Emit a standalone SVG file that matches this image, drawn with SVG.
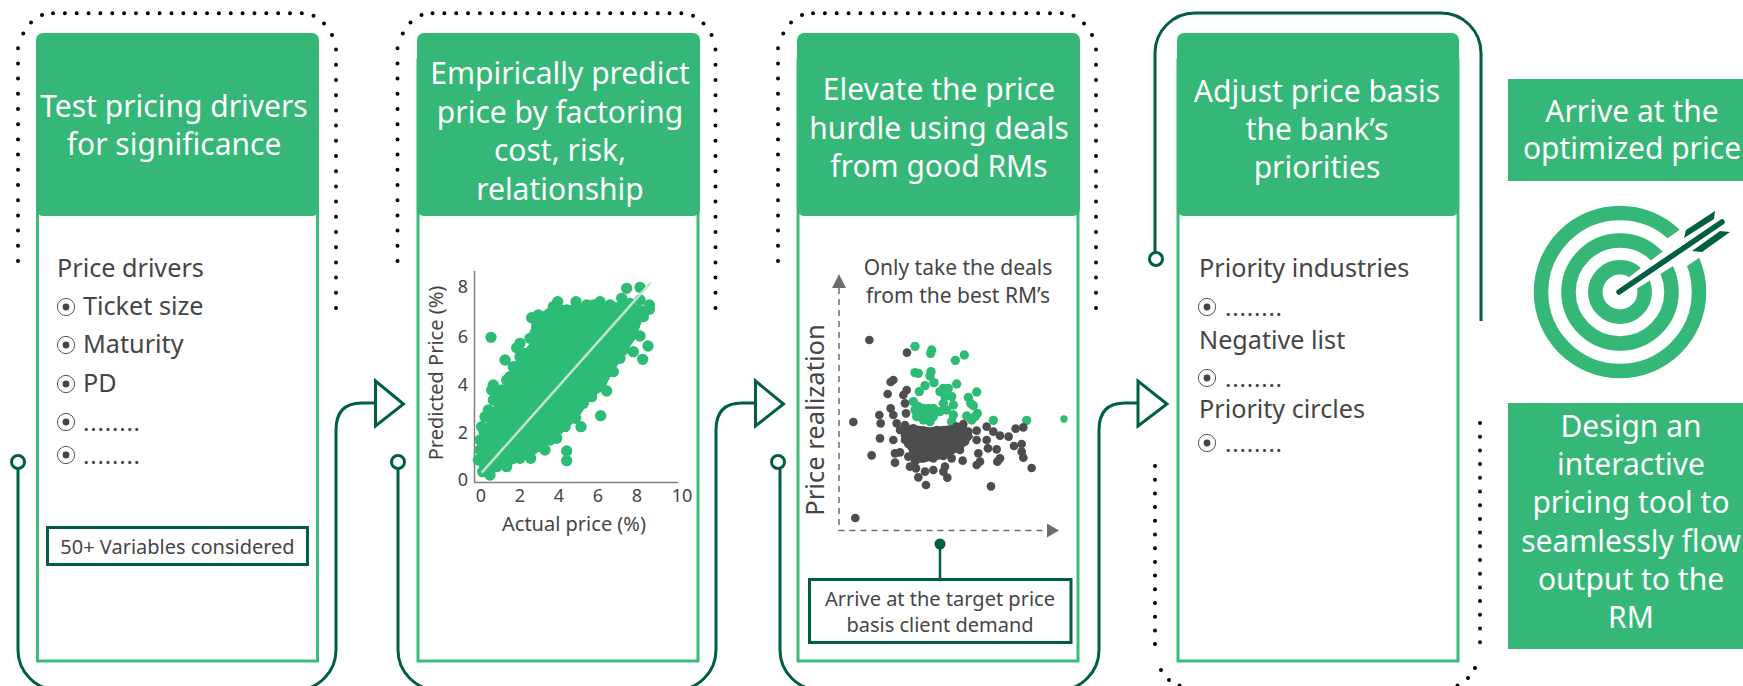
<svg xmlns="http://www.w3.org/2000/svg" xmlns:xlink="http://www.w3.org/1999/xlink" width="1743" height="686" viewBox="0 0 1743 686">
<style>
text{font-family:"Noto Sans","Open Sans","Liberation Sans",sans-serif}
.h{fill:#fff;font-size:30px;text-anchor:middle}
.hb{fill:#34B777}
.b{fill:#fff;stroke:#3DBB7B;stroke-width:3}
.t{fill:#454545;font-size:25.200px}
.dots{fill:#454545;font-size:24px;letter-spacing:.8px}
.s{fill:#454545;font-size:20px;text-anchor:middle}
.tick{fill:#454545;font-size:18px;text-anchor:middle}
.box{fill:#fff;stroke:#005F43;stroke-width:3}
.c{fill:none;stroke:#005F43;stroke-width:3}
.o{fill:#fff;stroke:#005F43;stroke-width:3}
.d{fill:none;stroke:#000;stroke-width:4;stroke-linecap:round}
.ax{fill:none;stroke:#808080;stroke-width:1.5}
.da{fill:none;stroke:#6D6E71;stroke-width:1.5;stroke-dasharray:6 5}
.ring{fill:none;stroke:#34B777;stroke-width:14.5}
</style>
<defs>
<g id="bul"><circle r="8.6" fill="#fff" stroke="#555" stroke-width="1"/><circle r="3.4" fill="#454545"/></g>
<g id="dotTop">
<path class="d" d="M18 261V47" stroke-dasharray="0 15.2"/>
<path class="d" d="M53 13.300H302" stroke-dasharray="0 11.85"/>
<path class="d" d="M336 308V49" stroke-dasharray="0 15.2"/>
<circle cx="23.300" cy="33.500" r="2"/><circle cx="31" cy="22.500" r="2"/><circle cx="42" cy="15" r="2"/><circle cx="313.500" cy="15.700" r="2"/><circle cx="324" cy="23.500" r="2"/><circle cx="332" cy="35" r="2"/>
</g>
</defs>
<g id="connectors">
<use xlink:href="#dotTop" href="#dotTop"/>
<use xlink:href="#dotTop" href="#dotTop" x="379.500"/>
<use xlink:href="#dotTop" href="#dotTop" x="760"/>
<path class="c" d="M18 468V650A40 40 0 0 0 58 690H296A40 40 0 0 0 336 650V430Q336 403 362 403H376"/>
<path class="c" d="M398 468V650A40 40 0 0 0 438 690H676A40 40 0 0 0 716 650V430Q716 403 742 403H756"/>
<path class="c" d="M780 468V650A40 40 0 0 0 820 690H1059A40 40 0 0 0 1099 650V430Q1099 403 1125 403H1139"/>
<path class="c" d="M1155 253V53A40 40 0 0 1 1195 13H1441A40 40 0 0 1 1481 53V321"/>
<path class="d" d="M1155 466V657" stroke-dasharray="0 13.7"/>
<path class="d" d="M1480 423V655" stroke-dasharray="0 13.7"/>
<path class="d" d="M1191 688.200H1446" stroke-dasharray="0 11.85"/>
<circle cx="1161" cy="670" r="2"/><circle cx="1169" cy="680" r="2"/><circle cx="1179.500" cy="685.500" r="2"/><circle cx="1475" cy="668" r="2"/><circle cx="1468" cy="678" r="2"/><circle cx="1457.500" cy="685.500" r="2"/>
<circle class="o" cx="18" cy="462" r="6.500"/><circle class="o" cx="398" cy="462" r="6.500"/><circle class="o" cx="778" cy="462" r="6.500"/><circle class="o" cx="1156" cy="259" r="6.500"/>
<path class="o" d="M375.500 381V426L403.500 404Z"/><path class="o" d="M755.500 381V426L783.500 404Z"/><path class="o" d="M1138 381V426L1167 404Z"/>
</g>
<g id="node1">
<rect class="b" x="37.500" y="60" width="280" height="601"/><rect class="hb" x="36" y="33" width="283" height="183" rx="7"/>
<text class="h" x="174" y="117">Test pricing drivers</text><text class="h" x="174" y="155">for significance</text>
<text class="t" x="57" y="277">Price drivers</text>
<use href="#bul" x="66" y="307"/><text class="t" x="83" y="315">Ticket size</text>
<use href="#bul" x="66" y="345"/><text class="t" x="83" y="353">Maturity</text>
<use href="#bul" x="66" y="384"/><text class="t" x="83" y="392">PD</text>
<use href="#bul" x="66" y="422"/><text class="dots" x="83" y="431">........</text>
<use href="#bul" x="66" y="455"/><text class="dots" x="83" y="464">........</text>
<rect class="box" x="47.500" y="527.500" width="260" height="37"/><text class="s" x="177.500" y="554">50+ Variables considered</text>
</g>
<g id="node2">
<rect class="b" x="418" y="60" width="280" height="601"/><rect class="hb" x="417" y="33" width="283" height="183" rx="7"/>
<text class="h" x="560" y="84">Empirically predict</text><text class="h" x="560" y="123">price by factoring</text><text class="h" x="560" y="161">cost, risk,</text><text class="h" x="560" y="200">relationship</text>
<path class="ax" d="M474.500 271V482.500H678"/>
<g transform="translate(410 250) scale(.33333)" fill="#2DBC75">
<path d="M205 640L215 560 235 500 265 440 300 380 310 340 360 280 365 205 430 165 500 165 565 160 640 155 715 170 700 200 680 260 640 320 610 365 580 420 545 445 500 510 440 565 360 625 290 650 240 675 210 665Z"/>
<circle cx="243" cy="262" r="17"/><circle cx="285" cy="330" r="17"/><circle cx="250" cy="405" r="17"/><circle cx="245" cy="420" r="17"/><circle cx="320" cy="293" r="17"/><circle cx="360" cy="265" r="17"/><circle cx="365" cy="203" r="17"/><circle cx="385" cy="195" r="17"/><circle cx="430" cy="170" r="17"/><circle cx="443" cy="155" r="17"/><circle cx="498" cy="155" r="17"/><circle cx="530" cy="165" r="17"/><circle cx="570" cy="155" r="17"/><circle cx="600" cy="165" r="17"/><circle cx="635" cy="145" r="17"/><circle cx="650" cy="115" r="17"/><circle cx="690" cy="112" r="17"/><circle cx="718" cy="165" r="17"/><circle cx="718" cy="178" r="17"/><circle cx="700" cy="200" r="17"/><circle cx="690" cy="258" r="17"/><circle cx="714" cy="288" r="17"/><circle cx="698" cy="328" r="17"/><circle cx="670" cy="305" r="17"/><circle cx="630" cy="325" r="17"/><circle cx="610" cy="365" r="17"/><circle cx="590" cy="423" r="17"/><circle cx="572" cy="497" r="17"/><circle cx="545" cy="440" r="17"/><circle cx="513" cy="530" r="17"/><circle cx="497" cy="505" r="17"/><circle cx="470" cy="603" r="17"/><circle cx="470" cy="632" r="17"/><circle cx="405" cy="600" r="17"/><circle cx="440" cy="565" r="17"/><circle cx="362" cy="625" r="17"/><circle cx="290" cy="650" r="17"/><circle cx="240" cy="675" r="17"/><circle cx="218" cy="665" r="17"/><circle cx="225" cy="500" r="17"/><circle cx="250" cy="450" r="17"/><circle cx="222" cy="545" r="17"/><circle cx="300" cy="380" r="17"/><circle cx="270" cy="430" r="17"/><circle cx="210" cy="600" r="17"/><circle cx="205" cy="630" r="17"/><circle cx="330" cy="280" r="17"/>
<circle cx="660" cy="260" r="17"/><circle cx="640" cy="300" r="17"/><circle cx="600" cy="345" r="17"/><circle cx="575" cy="395" r="17"/><circle cx="540" cy="425" r="17"/><circle cx="520" cy="460" r="17"/><circle cx="490" cy="480" r="17"/><circle cx="465" cy="530" r="17"/><circle cx="420" cy="570" r="17"/><circle cx="390" cy="590" r="17"/><circle cx="330" cy="625" r="17"/><circle cx="260" cy="650" r="17"/><circle cx="310" cy="350" r="17"/><circle cx="330" cy="320" r="17"/><circle cx="345" cy="310" r="17"/><circle cx="395" cy="225" r="17"/><circle cx="420" cy="190" r="17"/><circle cx="470" cy="180" r="17"/><circle cx="550" cy="165" r="17"/><circle cx="660" cy="160" r="17"/><circle cx="690" cy="150" r="17"/><circle cx="375" cy="250" r="17"/><circle cx="290" cy="390" r="17"/><circle cx="275" cy="420" r="17"/><circle cx="235" cy="480" r="17"/><circle cx="215" cy="530" r="17"/><circle cx="210" cy="570" r="17"/>
</g>
<path d="M481.700 472.700L650.700 282.700" stroke="#C5E3D3" stroke-width="2.500" fill="none"/>
<text class="tick" x="463" y="293">8</text><text class="tick" x="463" y="343">6</text><text class="tick" x="463" y="391">4</text><text class="tick" x="463" y="439">2</text><text class="tick" x="463" y="486">0</text>
<text class="tick" x="481" y="502">0</text><text class="tick" x="520" y="502">2</text><text class="tick" x="559" y="502">4</text><text class="tick" x="598" y="502">6</text><text class="tick" x="637" y="502">8</text><text class="tick" x="682" y="502">10</text>
<text class="s" x="574" y="531">Actual price (%)</text>
<text class="s" transform="translate(443 373) rotate(-90)">Predicted Price (%)</text>
</g>
<g id="node3">
<rect class="b" x="798" y="60" width="280" height="601"/><rect class="hb" x="797" y="33" width="283" height="183" rx="7"/>
<text class="h" x="939" y="100">Elevate the price</text><text class="h" x="939" y="139">hurdle using deals</text><text class="h" x="939" y="177">from good RMs</text>
<path class="da" d="M839 288V530.500H1047"/>
<path fill="#6D6E71" d="M839 274L832 288H846ZM1059 530.500L1047 523.500V537.500Z"/>
<text class="s" style="font-size:21px" x="958" y="275">Only take the deals</text><text class="s" style="font-size:21px" x="958" y="303">from the best RM’s</text>
<text class="t" style="font-size:25.600px;text-anchor:middle" transform="translate(824 420) rotate(-90)">Price realization</text>
<g transform="translate(780 240) scale(.33333)">
<g fill="#2DBC75">
<circle cx="405" cy="319" r="14"/><circle cx="455" cy="330" r="14"/><circle cx="452" cy="340" r="14"/><circle cx="526" cy="361" r="14"/><circle cx="553" cy="345" r="14"/><circle cx="405" cy="398" r="14"/><circle cx="415" cy="400" r="14"/><circle cx="453" cy="395" r="14"/><circle cx="450" cy="408" r="14"/><circle cx="530" cy="432" r="14"/><circle cx="590" cy="456" r="14"/><circle cx="435" cy="437" r="14"/><circle cx="462" cy="428" r="14"/><circle cx="418" cy="455" r="14"/><circle cx="490" cy="445" r="14"/><circle cx="505" cy="445" r="14"/><circle cx="480" cy="455" r="14"/><circle cx="495" cy="470" r="14"/><circle cx="515" cy="470" r="14"/><circle cx="520" cy="495" r="14"/><circle cx="490" cy="490" r="14"/><circle cx="500" cy="510" r="14"/><circle cx="520" cy="525" r="14"/><circle cx="515" cy="545" r="14"/><circle cx="400" cy="485" r="14"/><circle cx="405" cy="510" r="14"/><circle cx="415" cy="500" r="14"/><circle cx="430" cy="505" r="14"/><circle cx="445" cy="505" r="14"/><circle cx="460" cy="505" r="14"/><circle cx="470" cy="515" r="14"/><circle cx="420" cy="520" r="14"/><circle cx="440" cy="520" r="14"/><circle cx="460" cy="530" r="14"/><circle cx="480" cy="515" r="14"/><circle cx="410" cy="530" r="14"/><circle cx="430" cy="540" r="14"/><circle cx="450" cy="545" r="14"/><circle cx="565" cy="472" r="14"/><circle cx="572" cy="490" r="14"/><circle cx="580" cy="497" r="14"/><circle cx="560" cy="528" r="14"/><circle cx="575" cy="540" r="14"/><circle cx="592" cy="520" r="14"/><circle cx="585" cy="530" r="14"/><circle cx="640" cy="541" r="14"/><circle cx="740" cy="541" r="14"/><circle cx="852" cy="537" r="11"/>
</g>
<g fill="#4D4D4D">
<path d="M370 552L450 562 520 555 550 545 580 590 550 625 500 655 440 665 395 672 390 640 365 590Z"/>
<circle cx="375" cy="555" r="13"/><circle cx="400" cy="565" r="13"/><circle cx="430" cy="572" r="13"/><circle cx="470" cy="570" r="13"/><circle cx="500" cy="575" r="13"/><circle cx="530" cy="560" r="13"/><circle cx="550" cy="552" r="13"/><circle cx="565" cy="575" r="13"/><circle cx="375" cy="585" r="13"/><circle cx="385" cy="612" r="13"/><circle cx="400" cy="640" r="13"/><circle cx="405" cy="665" r="13"/><circle cx="430" cy="655" r="13"/><circle cx="460" cy="655" r="13"/><circle cx="490" cy="648" r="13"/><circle cx="555" cy="605" r="13"/><circle cx="535" cy="625" r="13"/>
<circle cx="268" cy="300" r="13"/><circle cx="381" cy="338" r="13"/><circle cx="220" cy="546" r="13"/><circle cx="226" cy="834" r="13"/><circle cx="340" cy="420" r="13"/><circle cx="332" cy="426" r="13"/><circle cx="380" cy="450" r="13"/><circle cx="370" cy="465" r="13"/><circle cx="323" cy="462" r="13"/><circle cx="375" cy="490" r="13"/><circle cx="378" cy="520" r="13"/><circle cx="332" cy="505" r="13"/><circle cx="340" cy="525" r="13"/><circle cx="298" cy="525" r="13"/><circle cx="302" cy="550" r="13"/><circle cx="300" cy="595" r="13"/><circle cx="340" cy="600" r="13"/><circle cx="275" cy="646" r="13"/><circle cx="345" cy="640" r="13"/><circle cx="360" cy="637" r="13"/><circle cx="345" cy="668" r="13"/><circle cx="390" cy="680" r="13"/><circle cx="408" cy="685" r="13"/><circle cx="415" cy="712" r="13"/><circle cx="438" cy="735" r="13"/><circle cx="435" cy="695" r="13"/><circle cx="460" cy="690" r="13"/><circle cx="495" cy="680" r="13"/><circle cx="490" cy="695" r="13"/><circle cx="502" cy="713" r="13"/><circle cx="548" cy="662" r="13"/><circle cx="590" cy="675" r="13"/><circle cx="600" cy="665" r="13"/><circle cx="595" cy="640" r="13"/><circle cx="633" cy="739" r="13"/><circle cx="755" cy="684" r="13"/><circle cx="730" cy="653" r="13"/><circle cx="725" cy="635" r="13"/><circle cx="725" cy="612" r="13"/><circle cx="702" cy="618" r="13"/><circle cx="686" cy="590" r="13"/><circle cx="660" cy="587" r="13"/><circle cx="650" cy="628" r="13"/><circle cx="660" cy="655" r="13"/><circle cx="652" cy="665" r="13"/><circle cx="624" cy="625" r="13"/><circle cx="620" cy="600" r="13"/><circle cx="640" cy="575" r="13"/><circle cx="620" cy="560" r="13"/><circle cx="590" cy="572" r="13"/><circle cx="707" cy="566" r="13"/><circle cx="730" cy="562" r="13"/><circle cx="350" cy="550" r="13"/><circle cx="360" cy="570" r="13"/><circle cx="375" cy="600" r="13"/><circle cx="385" cy="650" r="13"/><circle cx="540" cy="630" r="13"/><circle cx="590" cy="600" r="13"/><circle cx="515" cy="655" r="13"/>
</g>
</g>
<path d="M940 544V580" stroke="#005F43" stroke-width="2.500" fill="none"/><circle cx="940" cy="544" r="5.500" fill="#005F43"/>
<rect class="box" x="809.500" y="579.500" width="261.500" height="63"/>
<text class="s" x="940" y="606">Arrive at the target price</text><text class="s" x="940" y="632">basis client demand</text>
</g>
<g id="node4">
<rect class="b" x="1178" y="60" width="280" height="601"/><rect class="hb" x="1177" y="33" width="282" height="183" rx="7"/>
<text class="h" x="1317" y="102">Adjust price basis</text><text class="h" x="1317" y="140">the bank’s</text><text class="h" x="1317" y="178">priorities</text>
<text class="t" x="1199" y="277">Priority industries</text>
<use href="#bul" x="1207" y="307"/><text class="dots" x="1225" y="316">........</text>
<text class="t" x="1199" y="349">Negative list</text>
<use href="#bul" x="1207" y="378"/><text class="dots" x="1225" y="387">........</text>
<text class="t" x="1199" y="418">Priority circles</text>
<use href="#bul" x="1207" y="443"/><text class="dots" x="1225" y="452">........</text>
</g>
<g id="result">
<rect class="hb" x="1508" y="79" width="235" height="102"/>
<text class="h" x="1632" y="122">Arrive at the</text><text class="h" x="1632" y="159">optimized price</text>
<g id="target">
<circle class="ring" cx="1620" cy="292" r="79"/><circle class="ring" cx="1620" cy="292" r="51.500"/><circle class="ring" cx="1620" cy="292" r="24.700"/>
<path fill="#fff" d="M1628.300 277.700L1664 250.400 1664.400 240.500 1692 221 1712 249 1683.700 268.300 1674.300 265.200 1636.300 289.100Z"/>
<path d="M1619 292L1722 222" stroke="#005F43" stroke-width="5.500" stroke-linecap="round" fill="none"/>
<path fill="#005F43" d="M1684 238L1686 230 1715 211 1714 219ZM1692 251L1702 252 1730 232 1720 231Z"/>
</g>
<rect class="hb" x="1508" y="403" width="235" height="246"/>
<text class="h" x="1631" y="437">Design an</text><text class="h" x="1631" y="475">interactive</text><text class="h" x="1631" y="513">pricing tool to</text><text class="h" x="1631" y="552">seamlessly flow</text><text class="h" x="1631" y="590">output to the</text><text class="h" x="1631" y="628">RM</text>
</g>
</svg>
